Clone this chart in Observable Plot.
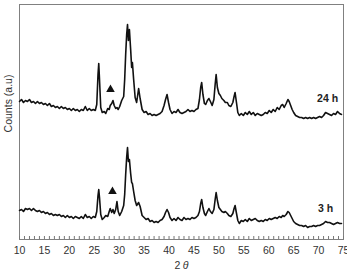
<!DOCTYPE html>
<html>
<head>
<meta charset="utf-8">
<script src="https://cdn.jsdelivr.net/npm/d3@7"></script>
<script src="https://cdn.jsdelivr.net/npm/@observablehq/plot@0.6"></script>
<style>
  body { margin: 0; background: #fff; }
  #chart svg { display: block; }
</style>
</head>
<body>
<div id="chart"></div>
<script>
const twoTheta = [10.0,10.4,10.8,11.2,11.6,12.0,12.4,12.8,13.2,13.6,14.0,14.4,14.8,15.2,15.6,16.0,16.4,16.8,17.2,17.6,18.0,18.4,18.8,19.2,19.6,20.0,20.4,20.8,21.2,21.6,22.0,22.4,22.8,23.2,23.6,24.0,24.4,24.8,25.2,25.5,25.75,25.9,26.05,26.3,26.6,27.0,27.3,27.7,28.0,28.2,28.5,28.75,29.0,29.3,29.55,29.8,30.1,30.5,30.9,31.1,31.3,31.5,31.67,31.85,32.05,32.3,32.5,32.65,32.9,33.2,33.5,33.9,34.2,34.6,35.0,35.4,35.8,36.2,36.6,37.0,37.4,37.8,38.2,38.6,39.0,39.3,39.6,39.9,40.2,40.6,41.0,41.4,41.8,42.2,42.6,43.0,43.4,43.8,44.2,44.6,45.0,45.4,45.8,46.1,46.35,46.55,46.8,47.1,47.35,47.7,48.0,48.3,48.65,49.0,49.25,49.45,49.7,50.0,50.3,50.6,51.0,51.3,51.7,52.0,52.4,52.8,53.05,53.25,53.5,53.8,54.1,54.5,54.9,55.3,55.7,56.1,56.5,56.9,57.3,57.7,58.1,58.5,58.9,59.3,59.7,60.1,60.5,60.9,61.3,61.7,62.1,62.5,62.8,63.1,63.5,63.85,64.1,64.4,64.7,65.0,65.4,65.8,66.2,66.6,67.0,67.4,67.8,68.2,68.6,69.0,69.4,69.8,70.2,70.6,71.0,71.4,71.8,72.2,72.6,73.0,73.4,73.8,74.2,74.6];

const counts24h = [138,140,137,139,138,140,137,138,136,138,136,137,135,136,134,136,133,134,132,133,131,133,131,132,130,131,129,131,129,130,128,130,129,133,129,131,129,130,129,135,165,176,160,132,127,128,126,131,130,134,136,139,134,131,132,130,133,139,143,160,185,205,215,199,210,190,172,177,160,142,137,151,141,130,127,128,125,126,124,125,124,125,126,128,134,140,145,137,130,126,128,127,130,127,126,127,128,130,128,129,128,130,131,140,152,157,145,136,135,139,141,138,134,140,155,165,152,146,144,141,139,137,137,134,133,137,143,147,138,127,124,126,124,127,125,128,125,127,124,126,125,124,125,127,126,129,127,130,128,132,130,134,135,132,136,140,138,134,130,127,124,123,122,122,121,122,121,122,121,122,121,122,123,122,124,127,126,125,124,126,125,128,126,125];

const counts3h = [29,30,28,31,30,31,29,31,29,28,29,27,28,26,27,25,26,24,25,24,25,23,24,22,24,22,23,21,23,22,21,23,21,25,22,23,21,23,22,28,44,50,42,25,20,22,24,23,28,31,27,30,26,30,38,28,24,28,34,45,65,82,92,78,80,66,57,56,48,39,34,37,33,24,22,20,21,18,19,17,18,17,19,20,23,27,30,27,22,19,21,19,22,20,19,22,20,21,20,22,21,22,24,28,36,40,32,26,24,28,31,28,26,30,40,47,39,32,30,28,27,28,26,24,23,26,31,34,27,19,16,19,18,20,18,21,19,20,21,19,18,19,18,20,19,21,20,21,22,21,23,22,24,23,25,28,27,24,21,18,16,15,14,14,13,14,12,13,13,14,13,14,14,15,16,18,17,17,16,15,16,17,16,16];

const xTickLabels = [10,15,20,25,30,35,40,45,50,55,60,65,70,75];
const minorTicks = d3.range(10, 76, 1);
const seriesLabels = ["24 h", "3 h"];
const markerTheta = [28.25, 28.65];
const markerCounts = [150, 48];
const labelTheta = [71.8, 71.4];
const labelCounts = [141, 31];

const data24 = twoTheta.map((t, i) => ({t, c: counts24h[i]}));
const data3 = twoTheta.map((t, i) => ({t, c: counts3h[i]}));
const markers = markerTheta.map((t, i) => ({t, c: markerCounts[i]}));
const labels = seriesLabels.map((s, i) => ({s, t: labelTheta[i], c: labelCounts[i]}));

const chart = Plot.plot({
  width: 347,
  height: 272,
  marginLeft: 19,
  marginRight: 4,
  marginTop: 4,
  marginBottom: 33,
  style: {fontFamily: "'Liberation Sans', Arial, sans-serif", background: "#fff"},
  x: {domain: [10, 75]},
  y: {domain: [0, 235]},
  marks: [
    Plot.frame({stroke: "#808080", strokeWidth: 1}),
    Plot.ruleX(minorTicks, {x: d => d, y1: 0, y2: 3, stroke: "#777", strokeWidth: 1}),
    Plot.axisX({ticks: xTickLabels, tickSize: 0, tickPadding: 7, tickFormat: d => String(d), fontSize: 10.5, fill: "#333", label: null}),
    Plot.axisY({ticks: [], label: null}),
    Plot.line(data24, {x: "t", y: "c", stroke: "#111", strokeWidth: 1.6, strokeLinejoin: "round"}),
    Plot.line(data3, {x: "t", y: "c", stroke: "#111", strokeWidth: 1.6, strokeLinejoin: "round"}),
    Plot.dot(markers, {x: "t", y: "c", symbol: "triangle", r: 3.2, fill: "#111", stroke: "none"}),
    Plot.text(labels, {x: "t", y: "c", text: "s", fontWeight: "bold", fontSize: 10.5, fill: "#222", textAnchor: "middle"}),
    Plot.text(["Counts (a.u)"], {x: 10, y: 136, dx: -11, rotate: -90, text: d => d, fontSize: 10.5, fill: "#333", textAnchor: "middle"}),
    Plot.text(["2"], {frameAnchor: "bottom", dy: 29, dx: -4, text: d => d, fontSize: 10.5, fill: "#333", textAnchor: "middle"}),
    Plot.text(["θ"], {frameAnchor: "bottom", dy: 29, dx: 4, text: d => d, fontSize: 10.5, fontStyle: "italic", fill: "#333", textAnchor: "middle"})
  ]
});
document.getElementById("chart").appendChild(chart);
</script>
</body>
</html>
